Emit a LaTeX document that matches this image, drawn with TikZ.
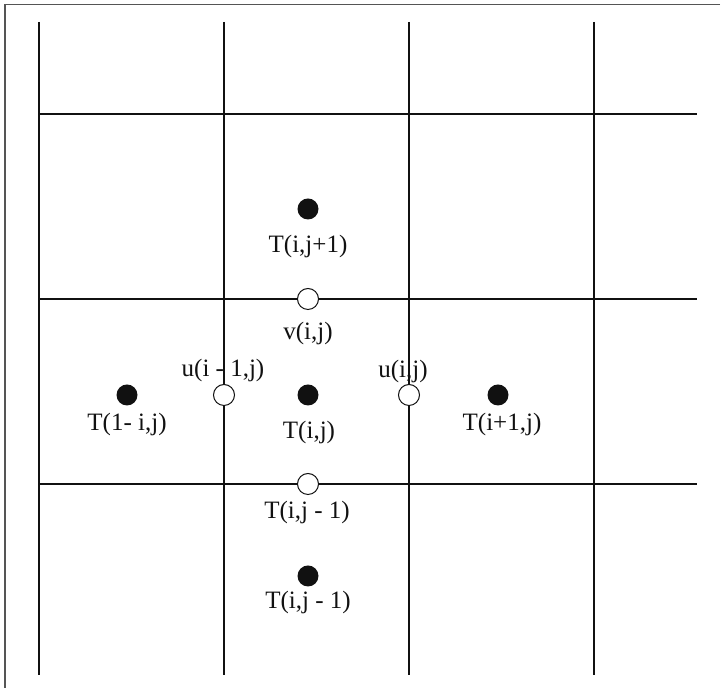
\documentclass[tikz,border=0pt]{standalone}
\usepackage{fontspec}
\setmainfont{Liberation Serif}
\definecolor{ink}{HTML}{111111}
\definecolor{frame}{HTML}{555555}

\begin{document}
\begin{tikzpicture}[x=0.5pt,y=-0.5pt,
  font=\fontsize{12.5}{15}\selectfont,
  gridline/.style={line width=0.75pt,ink},
  border/.style={line width=0.5pt,frame},
  dot/.style={circle,fill=ink,inner sep=0pt,minimum size=10.5pt},
  hole/.style={circle,draw=ink,fill=white,line width=0.5pt,inner sep=0pt,minimum size=10.5pt},
  lbl/.style={text=ink,inner sep=1pt}]
  \useasboundingbox (0,0) rectangle (725,688);

  % Page border: only the top and left edges show.
  \coordinate (TL) at (5,5);
  \coordinate (TR) at (720,5);
  \coordinate (BL) at (5,688);
  \draw[border] (TR) -- (TL) -- (BL);

  % Mesh lines.
  \foreach \x in {39,224,409,594}
    \draw[gridline] (\x,22) -- (\x,675);
  \foreach \y in {114,299,484}
    \draw[gridline] (39,\y) -- (697,\y);

  % Cell centres (filled) and face points (open).
  \node[dot] (Tc) at (308,395) {};
  \node[dot] (Tn) at (308,209) {};
  \node[dot] (Ts) at (308,576) {};
  \node[dot] (Tw) at (127,395) {};
  \node[dot] (Te) at (498,395) {};
  \node[hole] (vn) at (308,299) {};
  \node[hole] (vs) at (308,484) {};
  \node[hole] (uw) at (224,395) {};
  \node[hole] (ue) at (409,395) {};

  % Labels.
  \node[lbl] (Tn-l) at (308,246) {T(i,j+1)};
  \node[lbl] (vn-l) at (308,333) {v(i,j)};
  \node[lbl] (uw-l) at (223,370) {u(i - 1,j)};
  \node[lbl] (ue-l) at (403,371) {u(i,j)};
  \node[lbl] (Tw-l) at (127,424) {T(1- i,j)};
  \node[lbl] (Tc-l) at (309,432) {T(i,j)};
  \node[lbl] (Te-l) at (502,424) {T(i+1,j)};
  \node[lbl] (vs-l) at (307,512) {T(i,j - 1)};
  \node[lbl] (Ts-l) at (308,602) {T(i,j - 1)};
\end{tikzpicture}
\end{document}
